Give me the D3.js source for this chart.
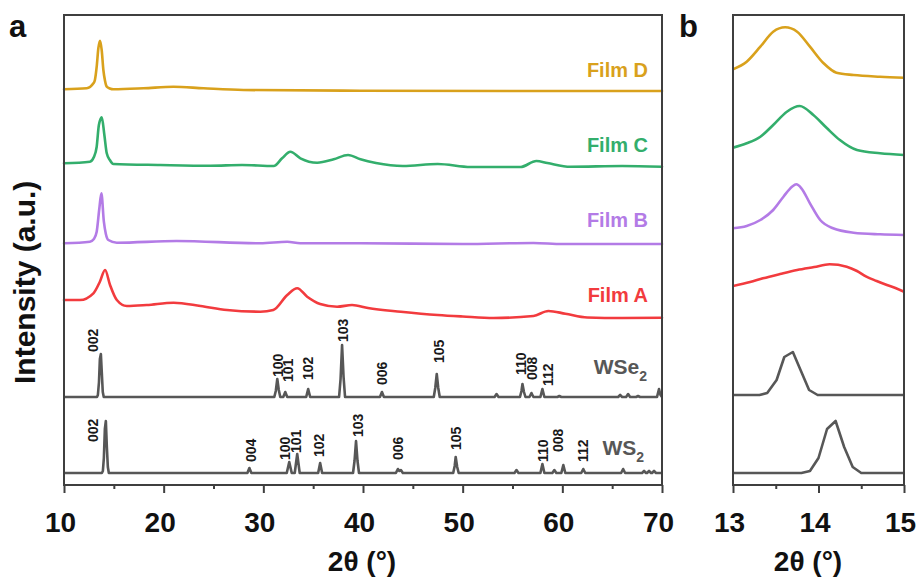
<!DOCTYPE html>
<html><head><meta charset="utf-8">
<script src="https://cdn.jsdelivr.net/npm/d3@7"></script>
<style>
html,body{margin:0;padding:0;background:#fff;}
svg{display:block;font-family:"Liberation Sans",Arial,sans-serif;}
</style></head>
<body><svg id="c" width="917" height="577"></svg>
<script>
// ---------------- DATA ----------------
const seriesNames = ["Film D","Film C","Film B","Film A"];
const seriesColors = ["#D9A11C","#33AE6C","#B37BE6","#F23B3E"];
const refNames = ["WSe2","WS2"];

// panel a: measured films, [2θ, intensity above own baseline]
const filmD = [[10,5.7],[12.28,6.7],[12.95,11.7],[13.1,15],[13.28,28.3],[13.45,47],[13.62,54.3],[13.78,45],[13.95,25],[14.12,14],[14.29,8.3],[14.6,6.5],[14.96,5.7],[17.97,6.7],[20.98,8.3],[24.0,6.7],[28.0,5],[39.7,4.3],[55,4],[70,4]];
const filmC = [[10,6.7],[12.6,8.3],[13.0,13],[13.28,23.3],[13.5,45],[13.79,52.7],[14.05,35],[14.29,16.7],[14.6,10],[14.96,6],[19.65,5],[24.67,4.3],[27.86,5],[31.04,4],[31.88,11.7],[32.71,18.3],[33.72,11.7],[35.4,7.3],[37.06,10.7],[38.5,15],[39.75,10.7],[41.3,7],[44,4],[47.5,6],[50.8,3],[55.8,3],[57.4,9],[58.5,7],[60.8,3.3],[66,4],[70,3.3]];
const filmB = [[10,1.7],[12.6,3.3],[13.0,6],[13.28,13.3],[13.55,37],[13.75,51.7],[14.0,23.3],[14.2,11],[14.45,5],[15.3,2.3],[21.3,4],[29.7,1.7],[32.4,3.3],[33.7,1.7],[39.75,1.7],[50,1],[57.1,2],[60,1],[70,1]];
const filmA = [[10,20],[11.6,20],[12.95,26.7],[13.6,38.3],[14.12,50],[14.62,35],[15.3,20],[16.3,14],[18.3,15],[21,17.3],[23.7,14],[26.35,10],[29.7,8.3],[31.0,10],[32.4,25],[33.4,31.7],[34.4,23.3],[35.7,16],[37.4,13.3],[38.9,15],[40.5,12],[43.8,8.3],[47.5,5],[50,3.5],[53.1,2],[57.1,4],[58.6,9],[60.3,6.3],[62.5,2.5],[66,2],[70,2.3]];

// panel b: zoom 13-15°
const filmDb = [[13.0,15.7],[13.16,23.3],[13.32,38.3],[13.47,53.3],[13.61,57.7],[13.75,53.3],[13.9,38.3],[14.06,21.7],[14.21,12.3],[14.41,10],[14.72,8.3],[15.0,7.3]];
const filmCb = [[13.0,12.3],[13.16,16.7],[13.32,23.3],[13.47,35],[13.63,48.3],[13.78,54],[13.94,45],[14.1,31.7],[14.25,20],[14.45,10],[14.72,6.7],[15.0,5]];
const filmBb = [[13.0,11.7],[13.16,14],[13.32,20],[13.47,30],[13.59,43.3],[13.69,53.3],[13.74,55.7],[13.8,51.7],[13.9,36.7],[14.02,20],[14.17,11.7],[14.41,7.3],[14.72,5.7],[15.0,5]];
const filmAb = [[13.0,9],[13.2,13],[13.35,16.7],[13.55,21],[13.75,25],[13.95,28],[14.13,30.7],[14.33,28.3],[14.45,24],[14.56,18.3],[14.68,14],[14.8,10],[14.9,7],[15.0,3.3]];

// reference patterns
const wse2Pattern = [[10,0],[13.31,0],[13.40,2],[13.51,15],[13.60,38],[13.70,43],[13.79,25],[13.89,5],[13.99,0],
 [31.1,0],[31.25,6],[31.4,18],[31.55,7],[31.7,0],[32.0,0],[32.2,5],[32.4,0],[34.3,0],[34.5,8],[34.7,0],
 [37.6,0],[37.75,18],[37.9,52],[38.05,20],[38.2,0],[41.7,0],[41.9,5],[42.1,0],
 [47.1,0],[47.25,9],[47.4,23],[47.55,9],[47.7,0],[53.2,0],[53.4,3],[53.6,0],
 [55.75,0],[55.9,6],[56.0,13],[56.15,5],[56.3,0],[56.7,0],[56.9,4],[57.1,0],[57.8,0],[58.0,8],[58.2,0],
 [59.5,0],[59.7,1],[59.9,0],[65.6,0],[65.8,2],[66.0,0],[66.4,0],[66.6,3],[66.8,0],[67.4,0],[67.6,1],[67.8,0],
 [69.5,0],[69.7,8],[69.85,2],[70,0]];
const ws2Pattern = [[10,0],[13.80,0],[13.90,2],[14.0,15],[14.10,44],[14.20,52],[14.30,26],[14.40,6],[14.50,0],
 [28.4,0],[28.6,5],[28.8,0],[32.35,0],[32.6,11],[32.85,0],[33.15,0],[33.4,19],[33.65,0],[35.5,0],[35.7,10],[35.9,0],
 [39.0,0],[39.15,12],[39.3,32],[39.45,12],[39.6,0],[43.3,0],[43.5,4],[43.65,2],[43.8,3],[44.0,0],
 [49.05,0],[49.2,7],[49.3,16],[49.45,6],[49.6,0],[55.2,0],[55.4,3],[55.6,0],[57.8,0],[58.0,9],[58.2,0],
 [59.0,0],[59.2,3],[59.4,0],[59.9,0],[60.1,8],[60.3,0],[61.9,0],[62.1,4],[62.3,0],[65.9,0],[66.1,4],[66.3,0],
 [68.0,0],[68.2,2],[68.4,0],[68.5,0],[68.7,2],[68.9,0],[69.0,0],[69.2,2],[69.4,0],[70,0]];

// hkl labels: text, 2θ of label, intensity at label start
const wse2Hkl = ["002","100","101","102","103","006","105","110","008","112"];
const wse2HklX = [12.91,31.46,32.46,34.47,37.94,41.86,47.59,55.83,56.94,58.54];
const wse2HklY = [45,20,15,17,55,12,34,22,17,11];
const ws2Hkl = ["002","004","100","101","102","103","006","105","110","008","112"];
const ws2HklX = [12.91,28.79,32.21,33.32,35.63,39.45,43.47,49.30,58.04,59.55,62.06];
const ws2HklY = [31,11,13,20,16,36,13,23,11,21,11];

// ticks
const ticksA = [10,20,30,40,50,60,70];
const minorA = [15,25,35,45,55,65];
const ticksB = [13,14,15];
const minorB = [13.5,14.5];

// ---------------- LAYOUT ----------------
const offA = [390,315,240,165];   // stacking offsets of films in panel a
const offB = [400,325,245,190];   // panel b
const refOffA = [88,12], refOffB = [90,12];
const svg = d3.select("#c");
const yTop = 15, yBot = 485;
const xA = d3.scaleLinear().domain([10,70]).range([64,662]);
const xB = d3.scaleLinear().domain([13,15]).range([733,904]);
const yS = d3.scaleLinear().domain([0,470]).range([yBot,yTop]);
const gray = "#575757";
const frameCol = "#3f3f3f";

svg.append("defs").append("clipPath").attr("id","clipB")
  .append("rect").attr("x",733).attr("y",yTop).attr("width",171).attr("height",yBot-yTop);

function drawLine(g, data, x, off, color, w){
  const line = d3.line().x(d=>x(d[0])).y(d=>yS(off+d[1])).curve(d3.curveMonotoneX);
  g.append("path").datum(data).attr("d",line).attr("fill","none")
   .attr("stroke",color).attr("stroke-width",w).attr("stroke-linejoin","round").attr("stroke-linecap","round");
}
function drawRef(g, data, x, off){
  const line = d3.line().x(d=>x(d[0])).y(d=>yS(off+d[1]));
  g.append("path").datum(data).attr("d",line).attr("fill","none")
   .attr("stroke",gray).attr("stroke-width",2.6).attr("stroke-linejoin","round");
}

// Panel a
const gA = svg.append("g");
const filmsA = [filmD,filmC,filmB,filmA];
filmsA.forEach((f,i)=>drawLine(gA,f,xA,offA[i],seriesColors[i],2.6));
drawRef(gA,wse2Pattern,xA,refOffA[0]);
drawRef(gA,ws2Pattern,xA,refOffA[1]);

// hkl labels
function hkl(g, texts, xs, ys, off){
  texts.forEach((t,i)=>{
    const px = xA(xs[i]), py = yS(off+ys[i]);
    g.append("text").attr("transform",`translate(${px},${py}) rotate(-90)`)
     .attr("dy","0.36em").attr("font-size",14).attr("font-weight","bold").attr("fill","#1a1a1a").text(t);
  });
}
hkl(gA,wse2Hkl,wse2HklX,wse2HklY,refOffA[0]);
hkl(gA,ws2Hkl,ws2HklX,ws2HklY,refOffA[1]);

// film labels
const labelBase = [77,152,227,302];
seriesNames.forEach((n,i)=>{
  gA.append("text").attr("x",648).attr("y",labelBase[i]).attr("text-anchor","end")
    .attr("font-size",20).attr("font-weight","bold").attr("fill",seriesColors[i]).text(n);
});
function refLabel(x,y,base){
  const t = gA.append("text").attr("x",x).attr("y",y).attr("text-anchor","end")
    .attr("font-size",21).attr("font-weight","bold").attr("fill",gray);
  t.append("tspan").text(base);
  t.append("tspan").attr("font-size",14).attr("dy",7).text("2");
}
refLabel(647,374,"WSe");
refLabel(644,455,"WS");

// Panel b
const gB = svg.append("g").attr("clip-path","url(#clipB)");
[filmDb,filmCb,filmBb,filmAb].forEach((f,i)=>drawLine(gB,f,xB,offB[i],seriesColors[i],2.6));
drawRef(gB,wse2Pattern,xB,refOffB[0]);
drawRef(gB,ws2Pattern,xB,refOffB[1]);

// Frames and axes
function frame(x){
  const [x0,x1] = x.range();
  svg.append("rect").attr("x",x0).attr("y",yTop).attr("width",x1-x0).attr("height",yBot-yTop)
    .attr("fill","none").attr("stroke",frameCol).attr("stroke-width",2);
}
frame(xA); frame(xB);

function axis(x, major, minor){
  const g = svg.append("g").attr("transform",`translate(0,${yBot})`);
  g.call(d3.axisBottom(x).tickValues(major).tickSize(8).tickFormat(d3.format("d")));
  g.select(".domain").remove();
  g.selectAll(".tick line").attr("stroke",frameCol).attr("stroke-width",2);
  g.selectAll(".tick text").attr("y",27).attr("dx",-4).attr("font-size",28).attr("font-weight","bold")
    .attr("fill","#111").attr("font-family","Liberation Sans, Arial, sans-serif");
  const gm = svg.append("g").attr("transform",`translate(0,${yBot})`);
  gm.call(d3.axisBottom(x).tickValues(minor).tickSize(4).tickFormat(""));
  gm.select(".domain").remove();
  gm.selectAll(".tick line").attr("stroke",frameCol).attr("stroke-width",2);
}
axis(xA,ticksA,minorA);
axis(xB,ticksB,minorB);

// axis titles
function xTitle(cx){
  svg.append("text").attr("x",cx).attr("y",571).attr("text-anchor","middle")
    .attr("font-size",28).attr("font-weight","bold").attr("fill","#111").text("2θ (°)");
}
xTitle(362); xTitle(808);
svg.append("text").attr("transform","translate(35,384) rotate(-90)")
  .attr("font-size",30).attr("font-weight","bold").attr("fill","#111").text("Intensity (a.u.)");

// panel letters
svg.append("text").attr("x",9).attr("y",37).attr("font-size",31).attr("font-weight","bold").attr("fill","#111").text("a");
svg.append("text").attr("x",679).attr("y",37).attr("font-size",31).attr("font-weight","bold").attr("fill","#111").text("b");
</script></body></html>
